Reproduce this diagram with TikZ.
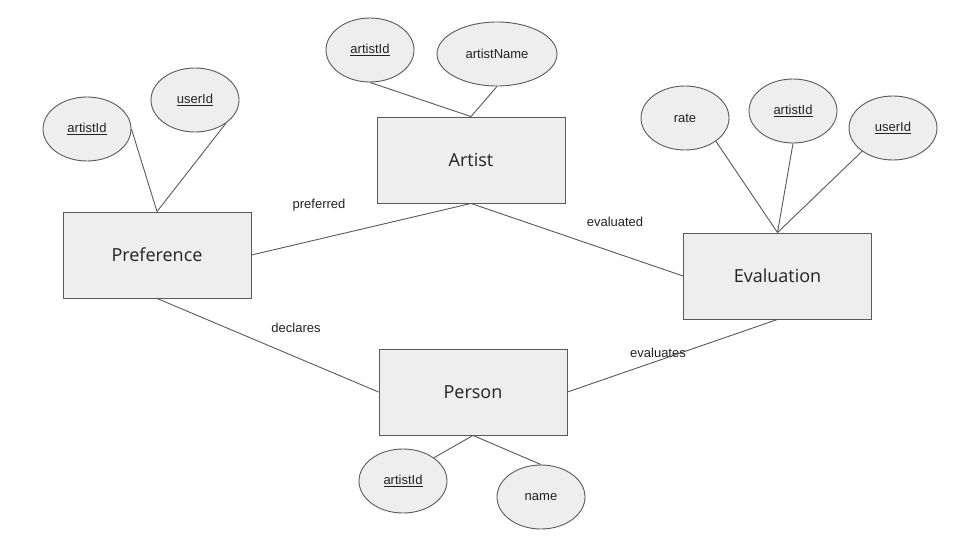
\documentclass[tikz,border=0pt]{standalone}
\usepackage{fontspec}
\setmainfont{Liberation Sans}
\newfontfamily\entfont{Open Sans}
\usetikzlibrary{shapes.geometric}
\definecolor{fillg}{HTML}{EEEEEE}
\definecolor{lineg}{HTML}{595959}
\definecolor{txt}{HTML}{222222}
\tikzset{
  entity/.style={draw=lineg, fill=fillg, line width=0.9pt, minimum width=188pt, minimum height=86pt, inner sep=0pt, font=\entfont\fontsize{18}{20}\selectfont, text=txt},
  attr/.style={ellipse, draw=lineg, fill=fillg, line width=0.9pt, minimum width=88pt, minimum height=64pt, inner sep=0pt, font=\fontsize{13}{15}\selectfont, text=txt},
  conn/.style={draw=lineg, line width=0.9pt},
  lbl/.style={font=\fontsize{13}{15}\selectfont, text=txt, inner sep=0pt}
}
\begin{document}
\begin{tikzpicture}[x=1pt,y=-1pt]
\path[use as bounding box, fill=white] (0,0) rectangle (960,540);
% entities
\node[entity] (pref) at (157,255) {Preference};
\node[entity] (artist) at (471,160) {Artist};
\node[entity] (eval) at (777.5,276) {Evaluation};
\node[entity] (person) at (473,392) {Person};
% attributes
\node[attr] (pa) at (87,129) {\underline{artistId}};
\node[attr] (pu) at (195,100) {\underline{userId}};
\node[attr] (aa) at (370,50) {\underline{artistId}};
\node[attr, minimum width=120pt] (an) at (497,54) {artistName};
\node[attr] (er) at (685,118) {rate};
\node[attr] (ea) at (793,111) {\underline{artistId}};
\node[attr] (eu) at (893,128) {\underline{userId}};
\node[attr] (sa) at (403,481) {\underline{artistId}};
\node[attr] (sn) at (541,497) {name};
% attribute connectors
\draw[conn] (pa.east) -- (pref.north);
\draw[conn] (pu.-37) -- (pref.north);
\draw[conn] (aa.south) -- (artist.north);
\draw[conn] (an.south) -- (artist.north);
\draw[conn] (er.-37) -- (eval.north);
\draw[conn] (ea.south) -- (eval.north);
\draw[conn] (eu.-143) -- (eval.north);
\draw[conn] (sa.37) -- (person.south);
\draw[conn] (sn.north) -- (person.south);
% relationships
\draw[conn] (pref.east) -- (artist.south);
\draw[conn] (artist.south) -- (eval.west);
\draw[conn] (pref.south) -- (person.west);
\draw[conn] (eval.south) -- (person.east);
\node[lbl] (l1) at (319,205) {preferred};
\node[lbl] (l2) at (615,222) {evaluated};
\node[lbl] (l3) at (296,328) {declares};
\node[lbl] (l4) at (658,353) {evaluates};
\end{tikzpicture}
\end{document}
